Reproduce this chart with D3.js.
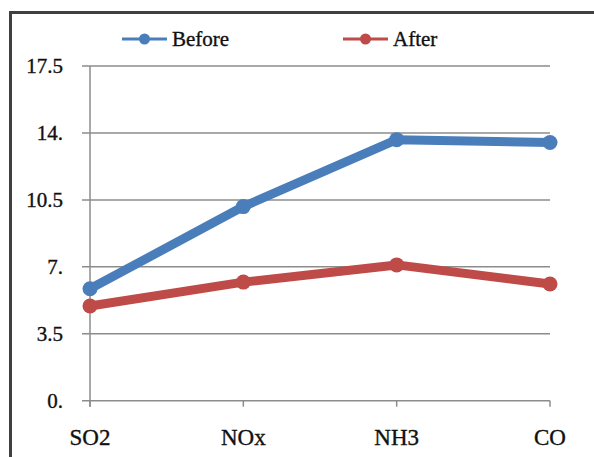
<!DOCTYPE html>
<html lang="en">
<head>
    <meta charset="UTF-8">
    <title>Before / After</title>
    <script src="https://d3js.org/d3.v7.min.js"></script>
    <style>
        body { margin: 0; background: #fff; }
        text { font-family: "Liberation Serif", "Times New Roman", serif; fill: #111; stroke: #111; stroke-width: 0.35px; }
    </style>
</head>
<body>
    <svg id="chart" width="594" height="457"></svg>
    <script>
        const categories = ["SO2", "NOx", "NH3", "CO"];
        const before = [5.85, 10.15, 13.65, 13.5];
        const after = [4.95, 6.2, 7.1, 6.1];
        const yTicks = [0, 3.5, 7, 10.5, 14, 17.5];
        const yTickLabels = ["0.", "3.5", "7.", "10.5", "14.", "17.5"];
        const seriesNames = ["Before", "After"];
        const seriesColors = ["#4a7ebb", "#be4b48"];

        const svg = d3.select("#chart");
        const margin = { top: 66, right: 44, bottom: 56, left: 90 };
        const width = +svg.attr("width");
        const height = +svg.attr("height");

        // outer frame (only left and top edges visible)
        svg.append("path")
            .attr("d", "M10.5,460 V12.5 H600")
            .attr("fill", "none")
            .attr("stroke", "#404040")
            .attr("stroke-width", 3);

        const x = d3.scalePoint()
            .domain(categories)
            .range([margin.left, width - margin.right]);

        const y = d3.scaleLinear()
            .domain([0, 17.5])
            .range([height - margin.bottom - 0.3, margin.top]);

        // gridlines + y ticks
        svg.append("g")
            .selectAll("line")
            .data(yTicks)
            .join("line")
            .attr("x1", margin.left - 8)
            .attr("x2", width - margin.right)
            .attr("y1", d => y(d))
            .attr("y2", d => y(d))
            .attr("stroke", "#8c8c8c")
            .attr("stroke-width", 1.5);

        svg.append("g")
            .selectAll("text")
            .data(yTicks)
            .join("text")
            .attr("x", 63)
            .attr("y", d => y(d))
            .attr("dy", "0.35em")
            .attr("text-anchor", "end")
            .attr("font-size", 21)
            .text((d, i) => yTickLabels[i]);

        // y axis line
        svg.append("line")
            .attr("x1", margin.left).attr("x2", margin.left)
            .attr("y1", margin.top).attr("y2", y(0) + 6)
            .attr("stroke", "#8c8c8c")
            .attr("stroke-width", 1.5);

        // x ticks
        svg.append("g")
            .selectAll("line")
            .data(categories)
            .join("line")
            .attr("x1", d => x(d)).attr("x2", d => x(d))
            .attr("y1", y(0)).attr("y2", y(0) + 6)
            .attr("stroke", "#8c8c8c")
            .attr("stroke-width", 1.5);

        svg.append("g")
            .selectAll("text")
            .data(categories)
            .join("text")
            .attr("x", d => x(d))
            .attr("y", 437)
            .attr("dy", "0.35em")
            .attr("text-anchor", "middle")
            .attr("font-size", 23)
            .text(d => d);

        // series
        const line = d3.line()
            .x((d, i) => x(categories[i]))
            .y(d => y(d));

        [before, after].forEach((vals, s) => {
            const g = svg.append("g");
            g.append("path")
                .datum(vals)
                .attr("d", line)
                .attr("fill", "none")
                .attr("stroke", seriesColors[s])
                .attr("stroke-width", 9)
                .attr("stroke-linejoin", "round");
            g.selectAll("circle")
                .data(vals)
                .join("circle")
                .attr("cx", (d, i) => x(categories[i]))
                .attr("cy", d => y(d))
                .attr("r", 7.5)
                .attr("fill", seriesColors[s]);
        });

        // legend
        const legendX = [122, 343];
        const legend = svg.append("g");
        seriesNames.forEach((name, i) => {
            const lg = legend.append("g").attr("transform", `translate(${legendX[i]},39)`);
            lg.append("line")
                .attr("x1", 0).attr("x2", 45)
                .attr("stroke", seriesColors[i])
                .attr("stroke-width", 3);
            lg.append("circle")
                .attr("cx", 22.5)
                .attr("r", 5.5)
                .attr("fill", seriesColors[i]);
            lg.append("text")
                .attr("x", 50)
                .attr("dy", "0.35em")
                .attr("font-size", 21)
                .text(name);
        });
    </script>
</body>
</html>
